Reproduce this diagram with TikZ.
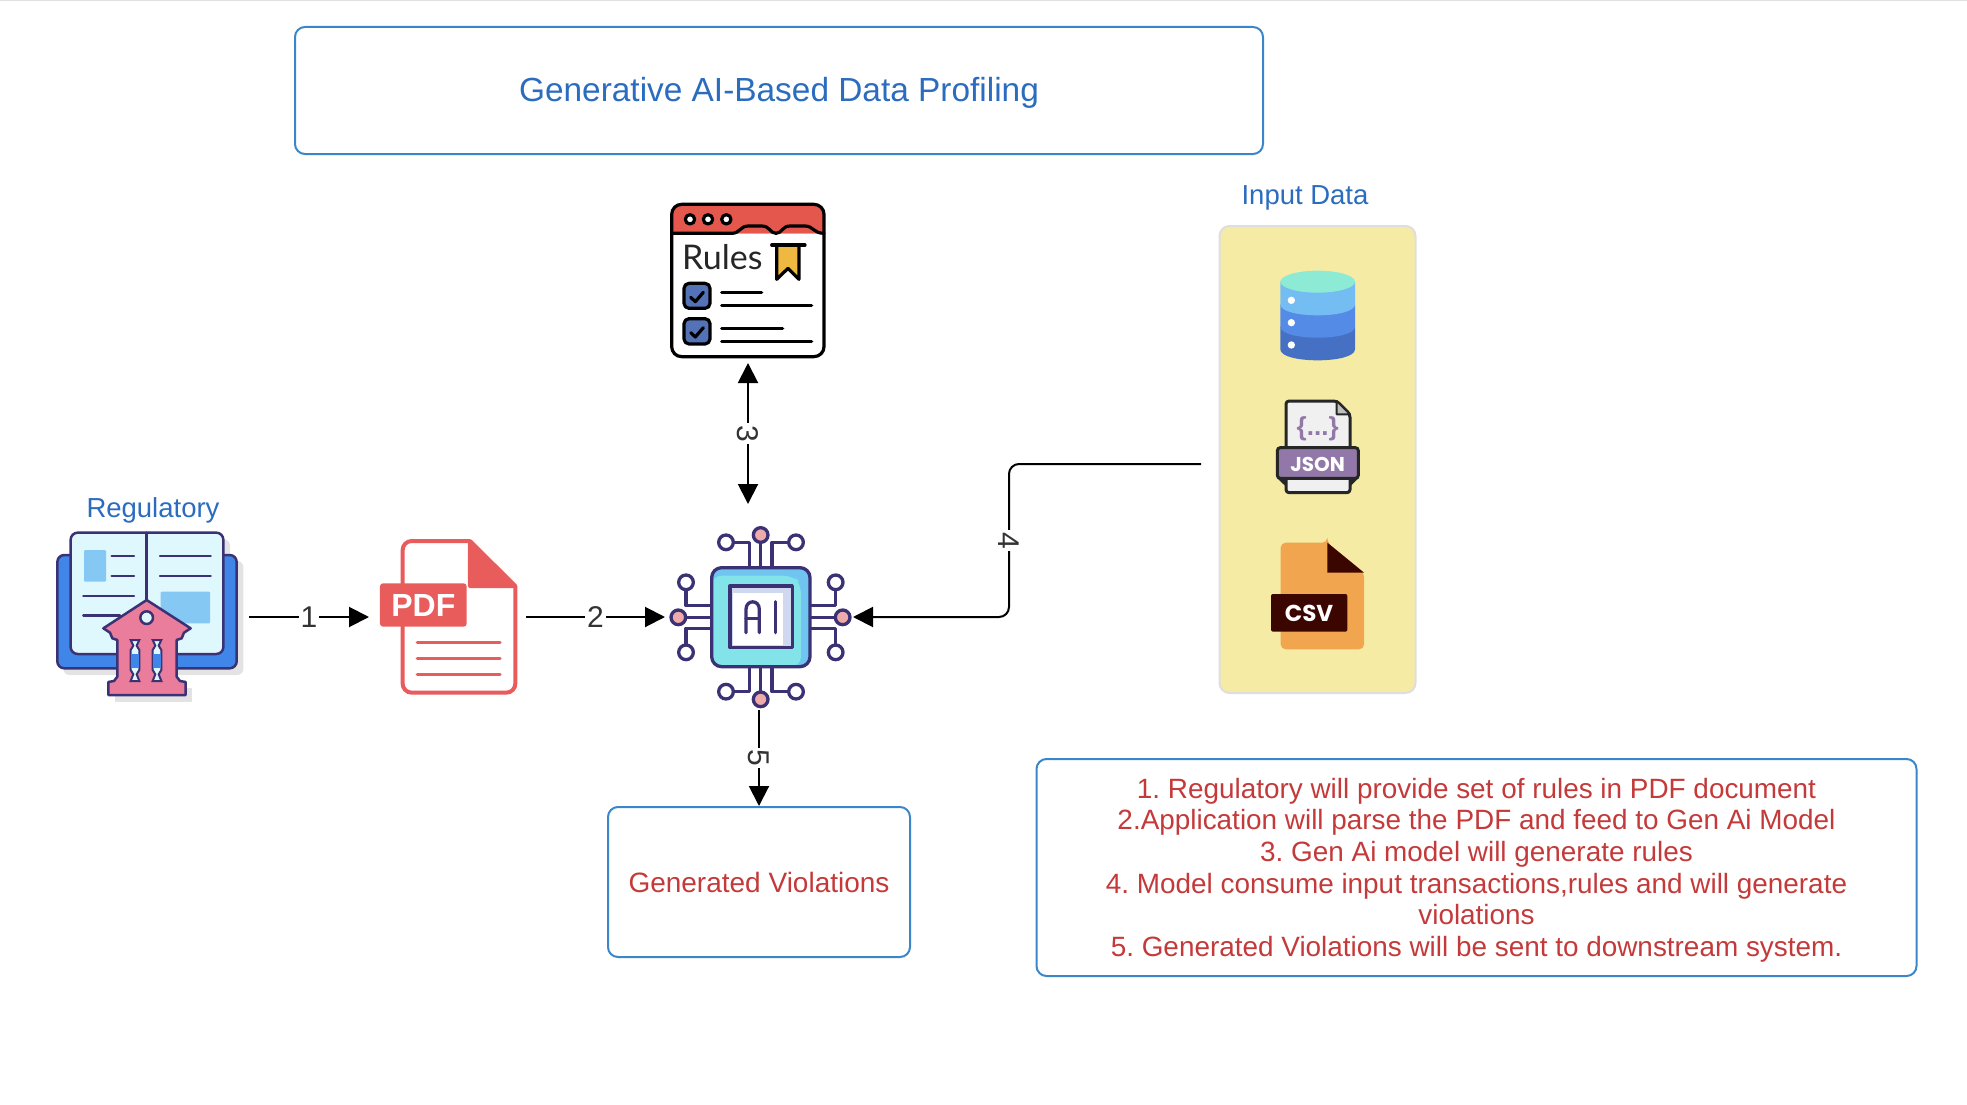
\documentclass[tikz,border=0pt]{standalone}
\usepackage{fontspec}
\setmainfont{Liberation Sans}
\newfontfamily\iconfont{Poppins}
\newfontfamily\rulesfont{Lato}
\usetikzlibrary{arrows.meta}
\frenchspacing
\definecolor{boxblue}{HTML}{3A86C8}
\definecolor{titleblue}{HTML}{2B6CBF}
\definecolor{notered}{HTML}{C43A3A}
\definecolor{paleyellow}{HTML}{F5EBA5}
\definecolor{inkpurple}{HTML}{3A3275}
\definecolor{coverblue}{HTML}{3F86E8}
\definecolor{pagecyan}{HTML}{DFF8FD}
\definecolor{picblue}{HTML}{85C8F4}
\definecolor{bankpink}{HTML}{E97D9B}
\definecolor{pdfred}{HTML}{E85C5C}
\definecolor{rulesred}{HTML}{E4574C}
\definecolor{markgold}{HTML}{EFB840}
\definecolor{tickblue}{HTML}{5472B8}
\definecolor{chipcyan}{HTML}{82E3E8}
\definecolor{chipblue}{HTML}{6FC4F0}
\definecolor{chipshade}{HTML}{D0D8F0}
\definecolor{pinpink}{HTML}{EFAAAA}
\definecolor{jsonpurple}{HTML}{9278A8}
\definecolor{csvorange}{HTML}{F0A54E}
\definecolor{csvdark}{HTML}{3B0500}
\definecolor{dbtop}{HTML}{8DEBD5}
\definecolor{dblight}{HTML}{74BDF2}
\definecolor{dbmid}{HTML}{548BE6}
\definecolor{dblow}{HTML}{4670C4}
\begin{document}
\begin{tikzpicture}[x=1pt,y=-1pt]
    \tikzstyle{panel}=[draw=boxblue, line width=2pt, rounded corners=10pt, inner sep=0pt]
    \tikzstyle{iconspot}=[inner sep=0pt, outer sep=0pt]
    \tikzstyle{flow}=[line width=2pt, -{Triangle[length=20pt,width=20pt]}]
    \tikzstyle{stepnum}=[fill=white, text=black!80, inner sep=2pt, font=\fontsize{30}{34}\selectfont]
    \tikzstyle{bluelabel}=[text=titleblue, inner sep=0pt, font=\fontsize{27.5}{32}\selectfont]
    \tikzstyle{ink}=[draw=inkpurple, line width=3.3pt, line cap=round, line join=round]
    \tikzstyle{bookink}=[draw=inkpurple, line width=2.5pt, line cap=round, line join=round]
    \tikzstyle{pdfline}=[draw=pdfred, line width=3.5pt, line cap=round]
    \tikzstyle{blackline}=[draw=black, line width=3.2pt, line cap=round, line join=round]
    \useasboundingbox (0,0) rectangle (1967,1105);
    \fill[black!12] (0,0) rectangle (1967,1.5);

    \node[panel, minimum width=968pt, minimum height=127pt] (title) at (779,90.5) {};
    \node[text=titleblue, inner sep=0pt, font=\fontsize{33.4}{38}\selectfont] (titleword) at (779,93) {Generative AI-Based Data Profiling};
    \node[bluelabel] (regulatorylabel) at (153,510) {Regulatory};
    \node[bluelabel] (inputlabel) at (1305,198) {Input Data};
    \node[draw=black!13, fill=paleyellow, line width=2pt, rounded corners=10pt, minimum width=196pt, minimum height=467pt] (inputbox) at (1317.5,459.5) {};
    \node[panel, minimum width=302pt, minimum height=150pt, text=notered, font=\fontsize{28}{32}\selectfont] (violations) at (759,882) {Generated Violations};
    \node[panel, minimum width=880pt, minimum height=217pt] (notes) at (1476.5,867.5) {};
    \node[text=notered, align=center, inner sep=0pt, font=\fontsize{27.9}{31.6}\selectfont] (noteword) at (1476.5,870) {1. Regulatory will provide set of rules in PDF document\\2.Application will parse the PDF and feed to Gen Ai Model\\3. Gen Ai model will generate rules\\4. Model consume input transactions,rules and will generate\\violations\\5. Generated Violations will be sent to downstream system.};

    \node[iconspot, minimum width=194pt, minimum height=100pt] (regulatory) at (152,617) {};
    \node[iconspot, minimum width=157pt, minimum height=100pt] (pdf) at (447.5,617) {};
    \node[iconspot, minimum width=188pt, minimum height=206pt] (ai) at (759,607) {};
    \node[iconspot, minimum width=155pt, minimum height=160pt] (rules) at (748,283) {};
    \coordinate (dataout) at (1201,464);
    \coordinate (bend) at (1009,617);

    \begin{scope}[shift={(40,480)},scale=1/3]
        \fill[black!11, rounded corners=6pt] (70,243) rectangle (610,585);
        \fill[black!11, rounded corners=6pt] (112,178) rectangle (570,300);
        \fill[black!11] (225,625) rectangle (457,665);
        \draw[bookink, fill=coverblue, rounded corners=7pt] (52,225) rectangle (590,565);
        \draw[bookink, fill=pagecyan, rounded corners=7pt] (92,158) rectangle (550,522);
        \fill[picblue, rounded corners=1pt] (132,210) rectangle (198,305);
        \fill[picblue, rounded corners=1pt] (362,335) rectangle (510,430);
        \draw[bookink] (320,158) -- (320,360);
        \draw[bookink] (215,228) -- (282,228);
        \draw[bookink] (215,288) -- (282,288);
        \draw[bookink] (130,348) -- (282,348);
        \draw[bookink] (130,406) -- (240,406);
        \draw[bookink] (360,228) -- (512,228);
        \draw[bookink] (360,288) -- (512,288);
        \draw[bookink, fill=bankpink] (320,360) -- (452,445) -- (432,458) -- (425,475) -- (410,480) -- (410,590) -- (420,603) -- (437,606) -- (437,645) -- (205,645) -- (205,606) -- (222,603) -- (232,590) -- (232,480) -- (217,475) -- (210,458) -- (190,445) -- cycle;
        \draw[draw=inkpurple, line width=2pt, fill=pagecyan] (272,480) -- (298,480) -- (290,497) -- (298,510) -- (298,570) -- (290,583) -- (298,603) -- (272,603) -- (280,583) -- (272,570) -- (272,510) -- (280,497) -- cycle;
        \draw[draw=inkpurple, line width=2pt, fill=pagecyan] (338,480) -- (364,480) -- (356,497) -- (364,510) -- (364,570) -- (356,583) -- (364,603) -- (338,603) -- (346,583) -- (338,570) -- (338,510) -- (346,497) -- cycle;
        \fill[coverblue] (274,522) rectangle (296,563);
        \fill[coverblue] (340,522) rectangle (362,563);
        \draw[bookink, fill=pagecyan] (320,413) circle[radius=19];
    \end{scope}

    \begin{scope}[shift={(40,480)},scale=1/3]
        \draw[draw=pdfred, line width=4pt, fill=white, rounded corners=9pt] (1290,183) -- (1088,183) -- (1088,638) -- (1426,638) -- (1426,318);
        \draw[draw=pdfred, line width=4pt, fill=pdfred, line join=round] (1290,183) -- (1426,318) -- (1290,318) -- cycle;
        \fill[pdfred, rounded corners=3pt] (1020,310) rectangle (1280,440);
        \node[iconspot, text=white, font=\fontsize{32}{36}\selectfont] (pdfword) at (1150,375) {\textbf{PDF}};
        \draw[pdfline] (1132,488) -- (1380,488);
        \draw[pdfline] (1132,536) -- (1380,536);
        \draw[pdfline] (1132,584) -- (1380,584);
    \end{scope}

    \begin{scope}[shift={(650,190)},scale=1/3]
        \fill[white, rounded corners=10pt] (65,43) rectangle (522,500);
        \fill[rulesred, rounded corners=10pt] (65,130) -- (65,43) -- (522,43) -- (522,130);
        \draw[blackline, fill=rulesred] (65,130) -- (245,130) .. controls (270,130) and (270,108) .. (295,108) -- (335,108) .. controls (360,108) and (360,130) .. (378,130) .. controls (396,130) and (396,108) .. (420,108) -- (465,108) .. controls (490,108) and (490,130) .. (522,130);
        \draw[blackline, rounded corners=10pt] (65,43) rectangle (522,500);
        \draw[blackline, fill=white] (120,88) circle[radius=14];
        \draw[blackline, fill=white] (174,88) circle[radius=14];
        \draw[blackline, fill=white] (229,88) circle[radius=14];
        \node[iconspot, text=black!85, font=\rulesfont\fontsize{34}{36}\selectfont] (ruleword) at (217,201) {Rules};
        \draw[blackline, fill=markgold] (380,165) -- (380,268) -- (414,235) -- (447,268) -- (447,165) -- cycle;
        \draw[blackline] (365,165) -- (465,165);
        \draw[blackline, fill=tickblue, rounded corners=5pt] (102,280) rectangle (180,355);
        \draw[blackline] (122,322) -- (136,335) -- (160,307);
        \draw[blackline, fill=tickblue, rounded corners=5pt] (102,386) rectangle (180,462);
        \draw[blackline] (122,428) -- (136,441) -- (160,413);
        \draw[blackline] (215,308) -- (335,308);
        \draw[blackline] (215,347) -- (485,347);
        \draw[blackline] (215,415) -- (398,415);
        \draw[blackline] (215,454) -- (485,454);
    \end{scope}

    \begin{scope}[shift={(660,510)},scale=1/3]
        \draw[ink] (302,75) -- (302,173);
        \draw[ink] (268,173) -- (268,97) -- (198,97);
        \draw[ink] (336,173) -- (336,97) -- (408,97);
        \draw[ink] (302,470) -- (302,568);
        \draw[ink] (268,470) -- (268,545) -- (198,545);
        \draw[ink] (336,470) -- (336,545) -- (408,545);
        \draw[ink] (155,322) -- (55,322);
        \draw[ink] (155,287) -- (78,287) -- (78,217);
        \draw[ink] (155,355) -- (78,355) -- (78,427);
        \draw[ink] (450,322) -- (548,322);
        \draw[ink] (450,287) -- (527,287) -- (527,217);
        \draw[ink] (450,355) -- (527,355) -- (527,427);
        \draw[ink, fill=pinpink] (302,75) circle[radius=22];
        \draw[ink, fill=pinpink] (302,568) circle[radius=22];
        \draw[ink, fill=pinpink] (55,322) circle[radius=22];
        \draw[ink, fill=pinpink] (548,322) circle[radius=22];
        \draw[ink, fill=white] (198,97) circle[radius=22];
        \draw[ink, fill=white] (408,97) circle[radius=22];
        \draw[ink, fill=white] (198,545) circle[radius=22];
        \draw[ink, fill=white] (408,545) circle[radius=22];
        \draw[ink, fill=white] (78,217) circle[radius=22];
        \draw[ink, fill=white] (78,427) circle[radius=22];
        \draw[ink, fill=white] (527,217) circle[radius=22];
        \draw[ink, fill=white] (527,427) circle[radius=22];
        \fill[chipblue, rounded corners=10pt] (155,173) rectangle (450,470);
        \fill[chipcyan, rounded corners=10pt] (155,197) -- (400,197) -- (423,220) -- (423,470) -- (155,470) -- cycle;
        \draw[ink, rounded corners=10pt] (155,173) rectangle (450,470);
        \fill[chipshade] (210,228) rectangle (397,413);
        \fill[white] (218,248) rectangle (368,405);
        \draw[ink] (210,228) rectangle (397,413);
        \draw[ink] (258,368) -- (258,298) .. controls (258,268) and (298,268) .. (298,298) -- (298,368);
        \draw[ink] (258,325) -- (298,325);
        \draw[ink] (346,275) -- (346,368);
    \end{scope}

    \begin{scope}[shift={(1210,220)},scale=1/3]
        \fill[dblow] (211,320) -- (211,388) .. controls (211,432) and (435,432) .. (435,388) -- (435,320) -- cycle;
        \fill[dbmid] (211,253) -- (211,320) .. controls (211,364) and (435,364) .. (435,320) -- (435,253) -- cycle;
        \fill[dblight] (211,185) -- (211,253) .. controls (211,297) and (435,297) .. (435,253) -- (435,185) -- cycle;
        \fill[dbtop] (323,185) ellipse[x radius=112, y radius=33];
        \fill[white] (244,241) circle[radius=11];
        \fill[white] (244,308) circle[radius=11];
        \fill[white] (244,375) circle[radius=11];
        \draw[draw=black!85, line width=3pt, fill=black!6, rounded corners=3pt, line join=round] (228,543) -- (380,543) -- (420,583) -- (420,818) -- (228,818) -- cycle;
        \draw[draw=black!85, line width=2pt, fill=black!25, line join=round] (380,543) -- (420,583) -- (380,583) -- cycle;
        \fill[black!85] (202,775) -- (228,800) -- (228,775) -- cycle;
        \fill[black!85] (445,775) -- (420,800) -- (420,775) -- cycle;
        \draw[draw=black!85, line width=3pt, fill=jsonpurple, rounded corners=3pt] (202,683) rectangle (445,775);
        \node[iconspot, text=jsonpurple, font=\fontsize{26}{28}\selectfont] (jsonbrace) at (323,625) {\textbf{\{...\}}};
        \node[iconspot, text=white, font=\iconfont\fontsize{20}{22}\selectfont] (jsonword) at (323,732) {\textbf{JSON}};
        \fill[csvorange, rounded corners=5pt] (352,968) -- (212,968) -- (212,1288) -- (462,1288) -- (462,1058) -- (352,968) -- cycle;
        \fill[csvdark] (352,968) -- (462,1058) -- (352,1058) -- cycle;
        \fill[csvdark, rounded corners=2pt] (183,1122) rectangle (412,1235);
        \node[iconspot, text=white, font=\iconfont\fontsize{23}{24}\selectfont] (csvword) at (297,1180) {\textbf{CSV}};
    \end{scope}

    \draw[flow] (regulatory.east) -- node[stepnum] {1} (pdf.west);
    \draw[flow] (pdf.east) -- node[stepnum] {2} (pdf.east -| ai.west);
    \draw[flow, {Triangle[length=20pt,width=20pt]}-{Triangle[length=20pt,width=20pt]}] (rules.south) -- node[stepnum, rotate=-90] {3} (rules.south |- ai.north);
    \draw[flow, rounded corners=10pt] (dataout) -| node[pos=0.75, stepnum, rotate=-90] {4} (bend) -- (bend -| ai.east);
    \draw[flow] (ai.south) -- node[stepnum, rotate=-90] {5} (violations.north);
\end{tikzpicture}
\end{document}
